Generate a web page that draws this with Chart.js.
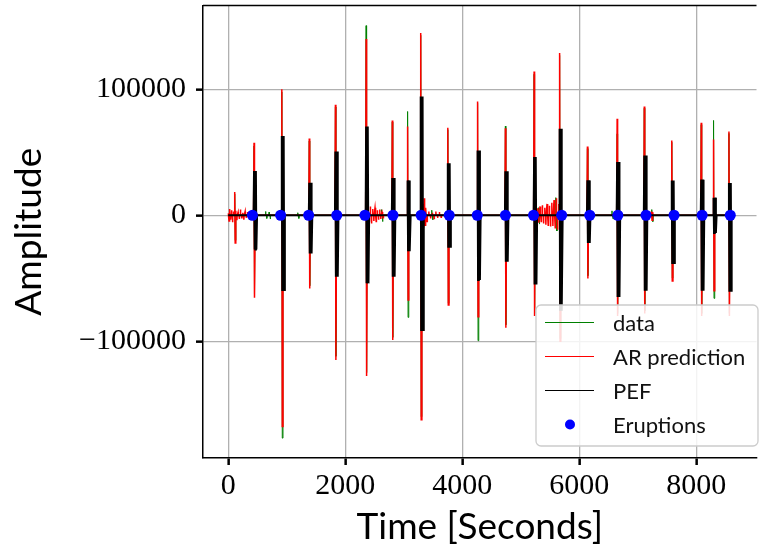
<!DOCTYPE html>
<html>
<head>
<meta charset="utf-8">
<script src="https://cdn.jsdelivr.net/npm/chart.js@4.4.0/dist/chart.umd.min.js"></script>
<style>
  html, body { margin: 0; padding: 0; background: #fff; }
</style>
</head>
<body>
<canvas id="chart" width="762" height="558"></canvas>
<script>
// tick labels
const xTicks = [0, 2000, 4000, 6000, 8000];
const yTicks = [-100000, 0, 100000];
const seriesLabels = ['data', 'AR prediction', 'PEF', 'Eruptions'];

// eruption onsets (s)
const eruptionTimes = [415, 896, 1376, 1856, 2337, 2817, 3298, 3778, 4258, 4739, 5219, 5700, 6180, 6660, 7141, 7621, 8101, 8582];

// spikes: time (s) and peak / trough of each trace
const spikeTimes = [112, 442, 917, 1386, 1833, 2358, 2805, 3067, 3291, 3754, 4263, 4738, 5229, 5665, 6140, 6648, 7112, 7582, 8085, 8296, 8559];
const dataUp   = [17000, 55000, 98000, 59000, 86000, 150600, 74000, 82400, 143000, 68000, 89000, 70800, 112000, 127000, 53000, 64700, 85000, 58000, 72000, 75300, 65000];
const dataDown = [-20000, -63000, -177000, -56000, -112000, -125000, -97000, -81100, -160000, -70000, -99600, -87000, -78000, -98000, -48000, -78000, -76000, -50000, -78000, -66000, -78000];
const arUp     = [18500, 57600, 100100, 61000, 87700, 140000, 75300, 70500, 144800, 69500, 90300, 69200, 114100, 128900, 54700, 76600, 86400, 59400, 73400, 60200, 66600];
const arDown   = [-22000, -65500, -167700, -58100, -114900, -127600, -99000, -67400, -162400, -71300, -80600, -89300, -80000, -100000, -50200, -80000, -78000, -52300, -80000, -60000, -80000];
const pefUp    = [0, 35100, 62900, 25900, 50700, 70500, 29600, 27700, 94300, 41400, 51500, 34900, 46200, 68700, 27700, 42200, 47500, 27700, 28300, 14000, 25600];
const pefDown  = [0, -27200, -59400, -30400, -48900, -54100, -48900, -27700, -91100, -25100, -51500, -37000, -55000, -75000, -22000, -65000, -60000, -38000, -60000, -14000, -60000];

// small wiggles around zero
const arNoiseT = [0, 15, 30, 45, 60, 75, 90, 130, 150, 170, 190, 210, 230, 250, 270, 290, 310, 330, 350, 370, 390,
  2390, 2410, 2430, 2450, 2470, 2490, 2510, 2530, 2550, 2570, 2590, 2610, 2630, 2650,
  3320, 3335, 3350, 3365, 3380, 3400, 3430, 3460, 3490, 3520, 3550, 3580, 3610, 3640,
  5250, 5270, 5290, 5310, 5330, 5350, 5370, 5390, 5410, 5430, 5450, 5470, 5490, 5510, 5530, 5550, 5570, 5590, 5610, 5630, 5650,
  7230, 7245, 7260];
const arNoiseV = [1500, -4500, 5000, -3500, 4000, -5500, 3000, 3500, -4000, 2500, -3000, 4500, -2500, 2000, -3500, 3000, -2000, 2500, -1500, 2000, -1500,
  6000, -5000, 7000, -6500, 5000, -4500, 6000, -5000, 4000, -3500, 4500, -3000, 2500, -2000,
  9000, -10000, 13500, -8000, 6000, -5000, 3000, -2500, 2000, -2500, 3000, -2000, 2500, -1500,
  4000, -3500, 5500, -6000, 7000, -5000, 8000, -6500, 6000, -7500, 9000, -8000, 7500, -9000, 10000, -8500, 12000, -10000, 13500, -11500, 9000,
  3000, -4000, 2500];
const dataNoiseT = [640, 660, 700, 720, 1190, 1210, 2380, 2400, 2620, 2640, 3480, 3500, 5300, 5320, 5600, 5620, 6560, 6580, 7240, 7260];
const dataNoiseV = [3000, -2500, 2500, -3000, 2000, -2500, 7000, -6500, 4500, -5000, 4000, -3500, 6000, -7000, 14000, -12500, 3500, -3000, 4500, -5000];
const recordEnd = 8600;

function buildLine(up, down, swings, noiseT, noiseV) {
    const pts = [{x: 0, y: 0}, {x: recordEnd, y: 0}];
    spikeTimes.forEach(function (t, i) {
        pts.push({x: t - 8, y: 0});
        for (let k = 0; k < swings; k++) {
            pts.push({x: t + k * 16, y: up[i]});
            pts.push({x: t + k * 16 + 8, y: down[i]});
        }
        pts.push({x: t + swings * 16 + 4, y: 0});
    });
    // each wiggle is a short excursion that returns to the baseline
    noiseT.forEach(function (t, i) {
        pts.push({x: t - 4, y: 0});
        pts.push({x: t, y: noiseV[i]});
        pts.push({x: t + 4, y: 0});
    });
    pts.sort(function (a, b) { return a.x - b.x; });
    return pts;
}

const tickFont = "'Liberation Serif', 'DejaVu Serif', serif";
const labelFont = "Lato, 'Noto Sans', sans-serif";

const lineDefaults = { showLine: true, pointRadius: 0, tension: 0, fill: false };

const data = {
    datasets: [
        Object.assign({ label: seriesLabels[0], data: buildLine(dataUp, dataDown, 1, dataNoiseT, dataNoiseV),
            borderColor: '#008000', borderWidth: 1, order: 3 }, lineDefaults),
        Object.assign({ label: seriesLabels[1], data: buildLine(arUp, arDown, 1, arNoiseT, arNoiseV),
            borderColor: '#ff0000', borderWidth: 1.5, order: 2 }, lineDefaults),
        Object.assign({ label: seriesLabels[2], data: buildLine(pefUp, pefDown, 3, [], []),
            borderColor: '#000000', borderWidth: 2, order: 1 }, lineDefaults),
        {
            label: seriesLabels[3],
            data: eruptionTimes.map(function (t) { return {x: t, y: 0}; }),
            showLine: false, pointRadius: 5.5, pointBorderWidth: 0,
            backgroundColor: '#0000ff', borderColor: '#0000ff', order: 0
        }
    ]
};

// top spine + legend box
const framePlugin = {
    id: 'frame',
    afterDraw: function (chart) {
        const ctx = chart.ctx;
        const a = chart.chartArea;
        ctx.save();
        ctx.strokeStyle = '#000';
        ctx.lineWidth = 1.5;
        ctx.beginPath();
        ctx.moveTo(a.left, a.top);
        ctx.lineTo(a.right, a.top);
        ctx.stroke();

        // legend
        const bx = 536, by = 305, bw = 222, bh = 141, r = 5;
        ctx.beginPath();
        ctx.moveTo(bx + r, by);
        ctx.arcTo(bx + bw, by, bx + bw, by + bh, r);
        ctx.arcTo(bx + bw, by + bh, bx, by + bh, r);
        ctx.arcTo(bx, by + bh, bx, by, r);
        ctx.arcTo(bx, by, bx + bw, by, r);
        ctx.closePath();
        ctx.fillStyle = 'rgba(255,255,255,0.85)';
        ctx.fill();
        ctx.strokeStyle = '#cccccc';
        ctx.lineWidth = 1.3;
        ctx.stroke();

        const rows = [322.5, 356.5, 390.5, 424.5];
        ctx.font = '22px ' + labelFont;
        ctx.textBaseline = 'middle';
        chart.data.datasets.forEach(function (ds, i) {
            const y = rows[i];
            if (ds.showLine) {
                ctx.strokeStyle = ds.borderColor;
                ctx.lineWidth = 1;
                ctx.beginPath();
                ctx.moveTo(545, y);
                ctx.lineTo(594, y);
                ctx.stroke();
            } else {
                ctx.fillStyle = ds.backgroundColor;
                ctx.beginPath();
                ctx.arc(570, y, 5, 0, Math.PI * 2);
                ctx.fill();
            }
            ctx.fillStyle = '#111';
            ctx.fillText(ds.label, 613, y + 1);
        });
        ctx.restore();
    }
};

new Chart(document.getElementById('chart'), {
    type: 'scatter',
    data: data,
    plugins: [framePlugin],
    options: {
        responsive: false,
        animation: false,
        devicePixelRatio: 1,
        layout: { padding: { top: 5, right: -6, bottom: 0, left: 0 } },
        plugins: { legend: { display: false }, tooltip: { enabled: false } },
        scales: {
            x: {
                type: 'linear', min: -430, max: 9030,
                afterBuildTicks: function (s) { s.ticks = xTicks.map(function (v) { return {value: v}; }); },
                afterFit: function (s) { s.height = 100; s.paddingLeft = 0; s.paddingRight = 0; },
                ticks: {
                    callback: function (v) { return String(v); },
                    font: { family: tickFont, size: 30 }, color: '#000', padding: 3,
                    maxRotation: 0, autoSkip: false
                },
                grid: { color: '#b0b0b0', lineWidth: 1.3, tickColor: '#000', tickLength: 7, tickWidth: 2.5 },
                border: { color: '#000', width: 1.5 },
                title: {
                    display: true, text: 'Time [Seconds]', color: '#000',
                    font: { family: labelFont, size: 37 }, padding: { top: 0, bottom: 9 }
                }
            },
            y: {
                type: 'linear', min: -192800, max: 166600,
                afterBuildTicks: function (s) { s.ticks = yTicks.map(function (v) { return {value: v}; }); },
                afterFit: function (s) { s.width = 203; s.paddingTop = 0; s.paddingBottom = 0; },
                ticks: {
                    callback: function (v) { return v < 0 ? '\u2212' + Math.abs(v) : String(v); },
                    font: { family: tickFont, size: 30 }, color: '#000', padding: 10
                },
                grid: { color: '#b0b0b0', lineWidth: 1.3, tickColor: '#000', tickLength: 7, tickWidth: 2.5 },
                border: { color: '#000', width: 1.5 },
                title: {
                    display: true, text: 'Amplitude', color: '#000',
                    font: { family: labelFont, size: 37 }, padding: { top: 7, bottom: 0 }
                }
            }
        }
    }
});
</script>
</body>
</html>
